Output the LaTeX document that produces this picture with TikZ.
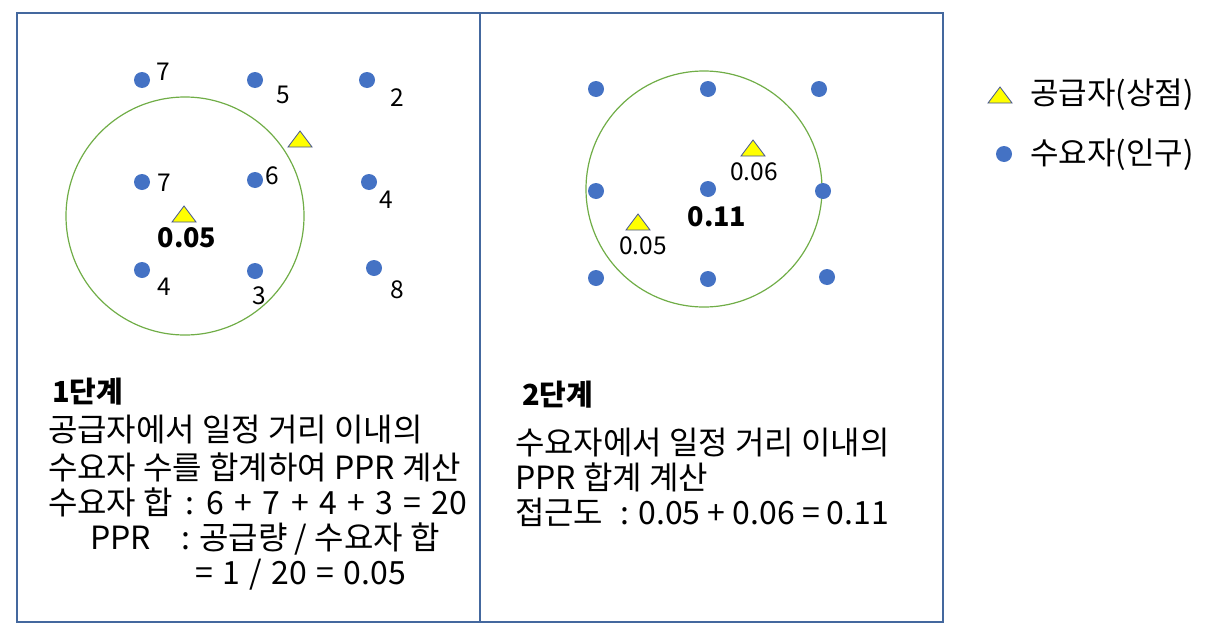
\documentclass[tikz,border=0pt]{standalone}
\usepackage{fontspec}
\setmainfont{Noto Sans CJK KR}
\definecolor{framec}{RGB}{68,104,158}
\definecolor{ringc}{RGB}{112,173,71}
\definecolor{dotc}{RGB}{68,114,196}
\definecolor{triyel}{RGB}{255,255,0}
\definecolor{triedge}{RGB}{68,84,150}
\begin{document}
\begin{tikzpicture}[x=1pt,y=-1pt,
  every node/.style={inner sep=0pt, outer sep=0pt},
  frame/.style={draw=framec, line width=1.6pt},
  ring/.style={draw=ringc, line width=1.2pt},
  dem/.style={circle, fill=dotc, minimum size=16pt, inner sep=0pt},
  num/.style={font=\fontsize{24.5}{28}\selectfont},
  bnum/.style={font=\fontsize{27}{30}\selectfont\bfseries},
  body/.style={font=\fontsize{32}{38}\selectfont, anchor=base west},
  wide/.style={font={\fontsize{32}{38}\selectfont\spaceskip=10.4pt\relax}, anchor=base west},
  mid/.style={font={\fontsize{32}{38}\selectfont\spaceskip=9.5pt\relax}, anchor=base west},
  ttl/.style={font=\fontsize{29}{34}\selectfont\bfseries, anchor=base west},
  leg/.style={font=\fontsize{31}{36}\selectfont, anchor=west},
  tri/.pic={\draw[draw=triedge, fill=triyel, line width=0.8pt, line join=miter] (-12,8) -- (12,8) -- (0,-8) -- cycle;}
]
\useasboundingbox (0,0) rectangle (1214,637);
% frames
\draw[frame] (17,13) rectangle (480,622);
\draw[frame] (480,13) rectangle (943,622);
% left panel
\draw[ring] (185,216) circle[radius=119];
\node[dem] (l11) at (142,80) {};
\node[dem] (l12) at (255,80) {};
\node[dem] (l13) at (367,80) {};
\node[dem] (l21) at (142,182) {};
\node[dem] (l22) at (255,180) {};
\node[dem] (l23) at (369,182) {};
\node[dem] (l31) at (142,270) {};
\node[dem] (l32) at (255,271) {};
\node[dem] (l33) at (374,268) {};
\node[num] (n11) at (163,72) {7};
\node[num] (n12) at (283,95) {5};
\node[num] (n13) at (397,98) {2};
\node[num] (n21) at (164,183) {7};
\node[num] (n22) at (272,176) {6};
\node[num] (n23) at (386,200) {4};
\node[num] (n31) at (164,287) {4};
\node[num] (n32) at (259,296) {3};
\node[num] (n33) at (397,290) {8};
\pic (ls1) at (184,214) {tri};
\pic (ls2) at (300,139) {tri};
\node[bnum] (lv) at (187,238) {0.05};
% right panel
\draw[ring] (704,189) circle[radius=118];
\node[dem] (r11) at (596,89) {};
\node[dem] (r12) at (708,89) {};
\node[dem] (r13) at (819,89) {};
\node[dem] (r21) at (596,191) {};
\node[dem] (r22) at (708,189) {};
\node[dem] (r23) at (823,191) {};
\node[dem] (r31) at (596,278) {};
\node[dem] (r32) at (708,279) {};
\node[dem] (r33) at (827,277) {};
\pic (rs1) at (753,148) {tri};
\pic (rs2) at (638,222) {tri};
\node[num] (rv1) at (754,172) {0.06};
\node[num] (rv2) at (643,246) {0.05};
\node[bnum] (rv) at (717,217) {0.11};
% legend
\pic (legt) at (1000,95) {tri};
\node[dem] (legd) at (1004,154) {};
\node[leg] (legt1) at (1030,95) {공급자(상점)};
\node[leg] (legt2) at (1030,155) {수요자(인구)};
% left text
\node[ttl] (t1) at (52,402) {1단계};
\node[body] (t2) at (48,441) {공급자에서 일정 거리 이내의};
\node[body] (t3) at (48,479) {수요자 수를 합계하여 PPR 계산};
\node[body] (t4a) at (48,514) {수요자 합};
\node[wide] (t4b) at (185,514) {: 6 + 7 + 4 + 3 = 20};
\node[body] (t5a) at (90,549) {PPR};
\node[body] (t5b) at (181,549) {: 공급량 / 수요자 합};
\node[mid] (t6) at (195,584) {= 1 / 20 = 0.05};
% right text
\node[ttl] (u1) at (522,405) {2단계};
\node[body] (u2) at (515,454) {수요자에서 일정 거리 이내의};
\node[body] (u3) at (515,489) {PPR 합계 계산};
\node[body] (u4a) at (515,524) {접근도};
\node[body] (u4b) at (620,524) {: 0.05 + 0.06 = 0.11};
\end{tikzpicture}
\end{document}
